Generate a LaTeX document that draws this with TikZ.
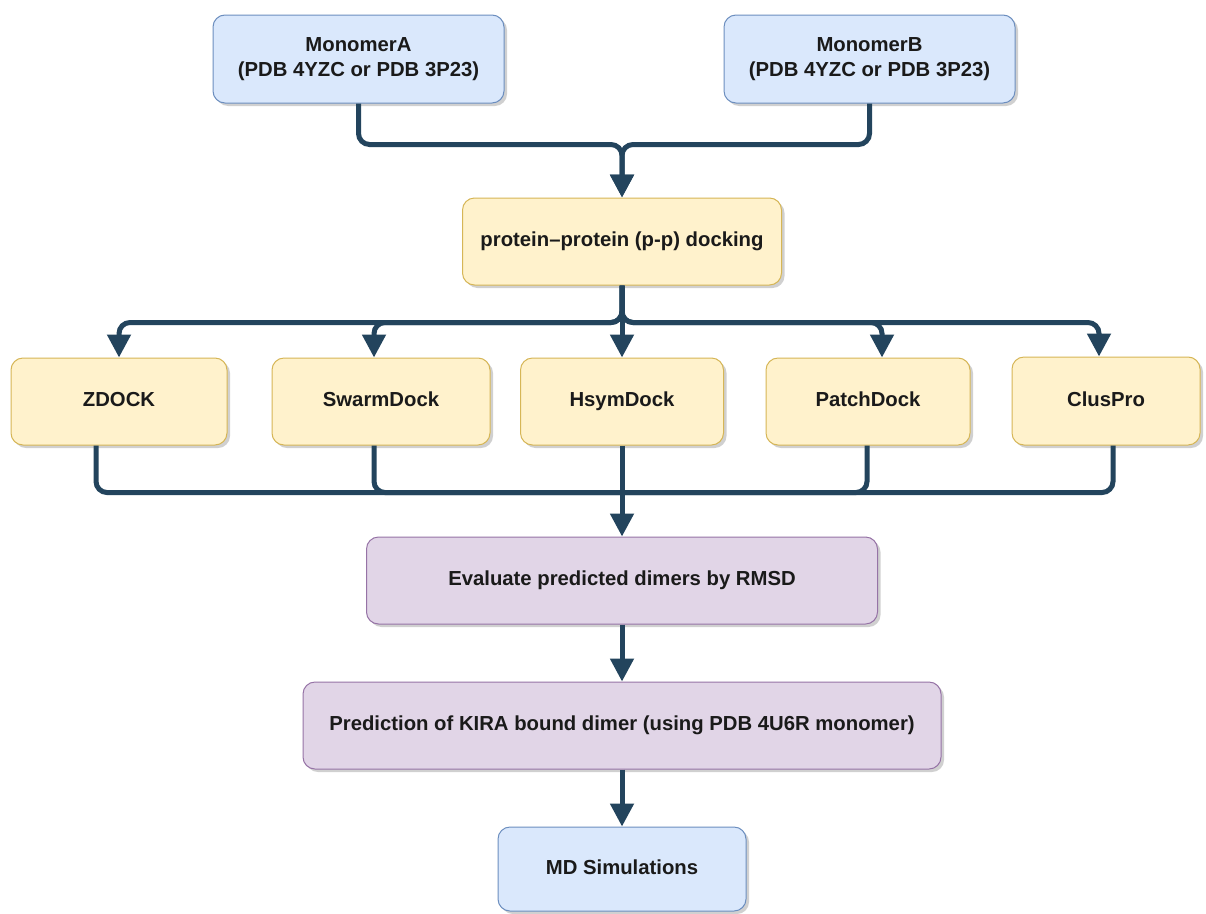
\documentclass[tikz,border=0pt]{standalone}
\usepackage{fontspec}
\setmainfont{Liberation Sans}
\usetikzlibrary{arrows.meta,shadows,calc}
\definecolor{lineC}{HTML}{23445D}
\definecolor{blueF}{HTML}{DAE8FC}\definecolor{blueD}{HTML}{6C8EBF}
\definecolor{yelF}{HTML}{FFF2CC}\definecolor{yelD}{HTML}{D6B656}
\definecolor{purF}{HTML}{E1D5E7}\definecolor{purD}{HTML}{9673A6}
\definecolor{txt}{HTML}{1A1A1A}
\tikzset{
  box/.style={rectangle, rounded corners=12pt, line width=1pt, align=center,
    font=\fontsize{20.3}{24.5}\selectfont\bfseries, text=txt, inner sep=0pt,
    drop shadow={shadow xshift=3pt, shadow yshift=-3pt, opacity=0.3, fill=black!60}},
  oneline/.style={text height=14.6pt, text depth=4.2pt},
  bluebox/.style={box, fill=blueF, draw=blueD},
  yelbox/.style={box, fill=yelF, draw=yelD, oneline},
  purbox/.style={box, fill=purF, draw=purD, oneline},
  conn/.style={draw=lineC, line width=5pt, rounded corners=11pt,
    -{Triangle[width=23pt,length=23pt]}},
  connn/.style={draw=lineC, line width=5pt, rounded corners=11pt}
}
\begin{document}
\begin{tikzpicture}[x=1pt,y=-1pt]
\useasboundingbox (0,0) rectangle (1206,913);
\fill[white] (0,0) rectangle (1206,913);
% nodes
\node[bluebox, minimum width=291pt, minimum height=88pt] (mA) at (358.5,59) {MonomerA\\(PDB 4YZC or PDB 3P23)};
\node[bluebox, minimum width=291pt, minimum height=88pt] (mB) at (869.5,59) {MonomerB\\(PDB 4YZC or PDB 3P23)};
\node[yelbox, minimum width=319pt, minimum height=87pt] (dock) at (622,241.5) {protein--protein (p-p) docking};
\node[yelbox, minimum width=216pt, minimum height=87pt] (zdock) at (119,401.5) {ZDOCK};
\node[yelbox, minimum width=218pt, minimum height=87pt] (swarm) at (381,401.5) {SwarmDock};
\node[yelbox, minimum width=203pt, minimum height=87pt] (hsym) at (622,401.5) {HsymDock};
\node[yelbox, minimum width=204pt, minimum height=87pt] (patch) at (868,401.5) {PatchDock};
\node[yelbox, minimum width=188pt, minimum height=88pt] (clus) at (1106,401) {ClusPro};
\node[purbox, minimum width=511pt, minimum height=87pt] (eval) at (622,580.5) {Evaluate predicted dimers by RMSD};
\node[purbox, minimum width=638pt, minimum height=87pt] (pred) at (622,725.5) {Prediction of KIRA bound dimer (using PDB 4U6R monomer)};
\node[bluebox, oneline, minimum width=248pt, minimum height=84pt] (md) at (622,869) {MD Simulations};
% junctions
\coordinate (j1) at ($(dock.north)+(0,-53)$);
\coordinate (j2) at ($(dock.south)+(0,37)$);
\coordinate (j3) at ($(eval.north)+(0,-44)$);
% monomers -> docking
\draw[conn] (mA.south) |- (j1) -- (dock.north);
\draw[conn] (mB.south) |- (j1) -- (dock.north);
% docking -> tools
\draw[conn] (dock.south) -- (j2) -| (zdock.north);
\draw[conn] (dock.south) -- (j2) -| ([xshift=-7pt]swarm.north);
\draw[conn] (dock.south) -- (hsym.north);
\draw[conn] (dock.south) -- (j2) -| ([xshift=14pt]patch.north);
\draw[conn] (dock.south) -- (j2) -| ([xshift=-7pt]clus.north);
% tools -> evaluate
\draw[connn] ([xshift=-23pt]zdock.south) |- (j3);
\draw[connn] ([xshift=-7pt]swarm.south) |- (j3);
\draw[connn] ([xshift=-1pt]patch.south) |- (j3);
\draw[connn] ([xshift=7pt]clus.south) |- (j3);
\draw[conn] (hsym.south) -- (eval.north);
% evaluate -> prediction -> MD
\draw[conn] (eval.south) -- (pred.north);
\draw[conn] (pred.south) -- (md.north);
\end{tikzpicture}
\end{document}
